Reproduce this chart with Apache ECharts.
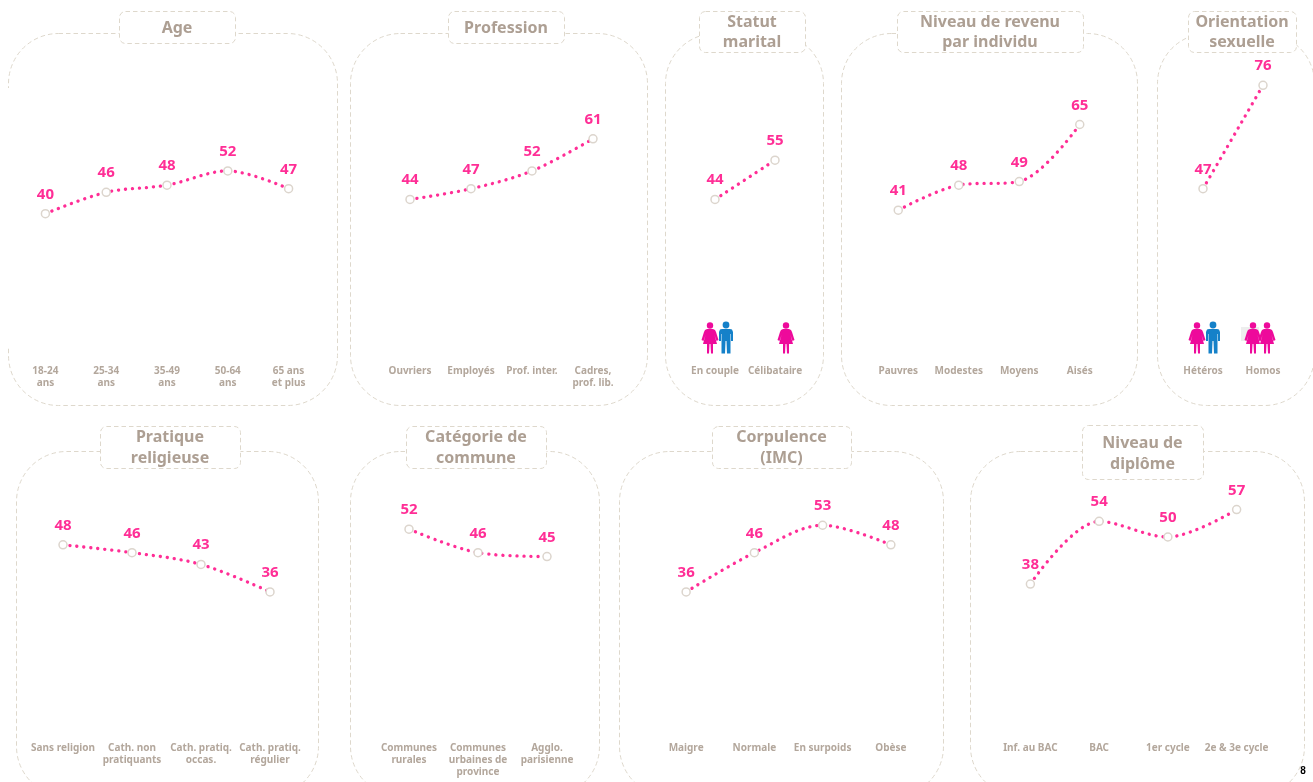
<!DOCTYPE html>
<html><head><meta charset="utf-8">
<script src="https://cdn.jsdelivr.net/npm/echarts@6/dist/echarts.min.js"></script>
<style>html,body{margin:0;padding:0;background:#fff}#c{width:1313px;height:782px}</style>
</head><body><div id="c"></div>
<script>
const ageCats=['18-24\nans','25-34\nans','35-49\nans','50-64\nans','65 ans\net plus'];
const ageVals=[40,46,48,52,47];
const profCats=['Ouvriers','Employés','Prof. inter.','Cadres,\nprof. lib.'];
const profVals=[44,47,52,61];
const statutCats=['En couple','Célibataire'];
const statutVals=[44,55];
const revenuCats=['Pauvres','Modestes','Moyens','Aisés'];
const revenuVals=[41,48,49,65];
const orientCats=['Hétéros','Homos'];
const orientVals=[47,76];
const religCats=['Sans religion','Cath. non\npratiquants','Cath. pratiq.\noccas.','Cath. pratiq.\nrégulier'];
const religVals=[48,46,43,36];
const communeCats=['Communes\nrurales','Communes\nurbaines de\nprovince','Agglo.\nparisienne'];
const communeVals=[52,46,45];
const imcCats=['Maigre','Normale','En surpoids','Obèse'];
const imcVals=[36,46,53,48];
const diplomeCats=['Inf. au BAC','BAC','1er cycle','2e & 3e cycle'];
const diplomeVals=[38,54,50,57];

const FONT='"Noto Sans", Lato, sans-serif';
const TITLE='#ad9f93', LABEL='#b3a79c', BORDER='#ded8cc', PINK='#ff2e96';
const R1={top:71,h:285.4,max:80}, R2={top:497.8,h:235.2,max:60};
const panels=[
 {title:'Age',cats:ageCats,vals:ageVals,left:15,w:304,r:R1,p:[8,33,329,372],b:[119,11,116,32]},
 {title:'Profession',cats:profCats,vals:profVals,left:379.5,w:244,r:R1,p:[350,33,297,372],b:[448,11,116,32]},
 {title:'Statut\nmarital',cats:statutCats,vals:statutVals,left:685,w:120,r:R1,p:[665,33,158,372],b:[699,11,106,41]},
 {title:'Niveau de revenu\npar individu',cats:revenuCats,vals:revenuVals,left:868,w:242,r:R1,p:[841,33,296,372],b:[897,11,186,41]},
 {title:'Orientation\nsexuelle',cats:orientCats,vals:orientVals,left:1173,w:120,r:R1,p:[1157,33,157,372],b:[1188,11,108,41]},
 {title:'Pratique\nreligieuse',cats:religCats,vals:religVals,left:28.5,w:276,r:R2,p:[16,451,302,345],b:[100,426,140,42]},
 {title:'Catégorie de\ncommune',cats:communeCats,vals:communeVals,left:374.5,w:207,r:R2,p:[350,451,249,345],b:[406,426,140,42]},
 {title:'Corpulence\n(IMC)',cats:imcCats,vals:imcVals,left:652,w:273,r:R2,p:[619,451,324,345],b:[712,426,139,42]},
 {title:'Niveau de\ndiplôme',cats:diplomeCats,vals:diplomeVals,left:996,w:275,r:R2,p:[970,451,334,345],b:[1082,425,121,54],dy:1}
];
const WOMAN_PTS=[[-3,-9],[3,-9],[5,-8],[6,-6],[8.5,2],[6.5,3],[4.5,-3],[7,6],[3,6],[3,15.5],[1,15.5],[0.5,6],[-0.5,6],[-1,15.5],[-3,15.5],[-3,6],[-7,6],[-4.5,-3],[-6.5,3],[-8.5,2],[-6,-6],[-5,-8]];
const MAN_PTS=[[-4,-9],[4,-9],[6,-8.5],[7,-6],[7,3],[5,3],[5,-4],[4.5,-4],[4.5,15.5],[1,15.5],[0.5,3],[-0.5,3],[-1,15.5],[-4.5,15.5],[-4.5,-4],[-5,-4],[-5,3],[-7,3],[-7,-6],[-6,-8.5]];
const W='#ee0a9b', M='#1581c9';
const icons=[[WOMAN_PTS,710,W],[MAN_PTS,726,M],[WOMAN_PTS,786,W],[WOMAN_PTS,1197,W],[MAN_PTS,1213,M],[WOMAN_PTS,1253,W],[WOMAN_PTS,1267,W]];

const graphic=[];
panels.forEach(x=>{
 graphic.push({type:'rect',z:0,shape:{x:x.p[0]+.5,y:x.p[1]+.5,width:x.p[2],height:x.p[3],r:50},
   style:{fill:'#fff',stroke:BORDER,lineWidth:1,lineDash:[4.5,3]}});
});
// the Age panel's left edge is interrupted in the reference
graphic.push({type:'rect',z:0.5,shape:{x:4,y:88,width:10,height:258},style:{fill:'#fff'}});
panels.forEach(x=>{
 graphic.push({type:'rect',z:1,shape:{x:x.b[0]+.5,y:x.b[1]+.5,width:x.b[2],height:x.b[3],r:6},
   style:{fill:'#fff',stroke:BORDER,lineWidth:1,lineDash:[4.5,3]}});
});
// faint grey ghost behind the Homos icon
graphic.push({type:'rect',z:1.5,shape:{x:1241,y:327,width:18,height:14},style:{fill:'#eeeeee'}});
icons.forEach(i=>{
 const man=i[0]===MAN_PTS;
 graphic.push({type:'group',z:2,x:i[1],y:338,children:[
   {type:'circle',z:2,shape:{cx:0,cy:man?-13:-12.5,r:man?3.4:3.2},style:{fill:i[2]}},
   {type:'polygon',z:2,shape:{points:i[0]},style:{fill:i[2]}}
 ]});
});
graphic.push({type:'text',z:5,x:1303,y:771,style:{text:'8',fill:'#000',font:'bold 10px "Liberation Sans"',textAlign:'center',textVerticalAlign:'middle'}});

const LH=20.5;
const option={animation:false,backgroundColor:'#fff',graphic,
 title:panels.map(x=>{
   const lines=x.title.split('\n').length;
   return {text:x.title,padding:0,left:x.b[0]+x.b[2]/2,top:x.b[1]+x.b[3]/2-lines*LH/2+1+(x.dy||0),textAlign:'center',z:6,
   textStyle:{color:TITLE,fontFamily:FONT,fontWeight:'bold',fontSize:16,lineHeight:LH}};
 }),
 grid:panels.map(x=>({left:x.left,width:x.w,top:x.r.top,height:x.r.h,containLabel:false})),
 xAxis:panels.map((x,i)=>({gridIndex:i,type:'category',data:x.cats,boundaryGap:true,axisLine:{show:false},axisTick:{show:false},splitLine:{show:false},
   axisLabel:{interval:0,margin:9,color:LABEL,fontFamily:FONT,fontWeight:'bold',fontSize:10,lineHeight:12}})),
 yAxis:panels.map((x,i)=>({gridIndex:i,type:'value',min:0,max:x.r.max,show:false})),
 series:panels.map((x,i)=>({type:'line',xAxisIndex:i,yAxisIndex:i,data:x.vals,smooth:0.33,z:3,
   lineStyle:{color:PINK,width:3.3,type:[0.1,6.9],cap:'round'},
   symbol:'circle',symbolSize:8,itemStyle:{color:'#fff',borderColor:'#dcd5cd',borderWidth:1.5},
   label:{show:true,position:'top',distance:7,color:PINK,fontFamily:FONT,fontWeight:'bold',fontSize:15}}))
};
echarts.init(document.getElementById('c'),null,{renderer:'canvas'}).setOption(option);
</script></body></html>
